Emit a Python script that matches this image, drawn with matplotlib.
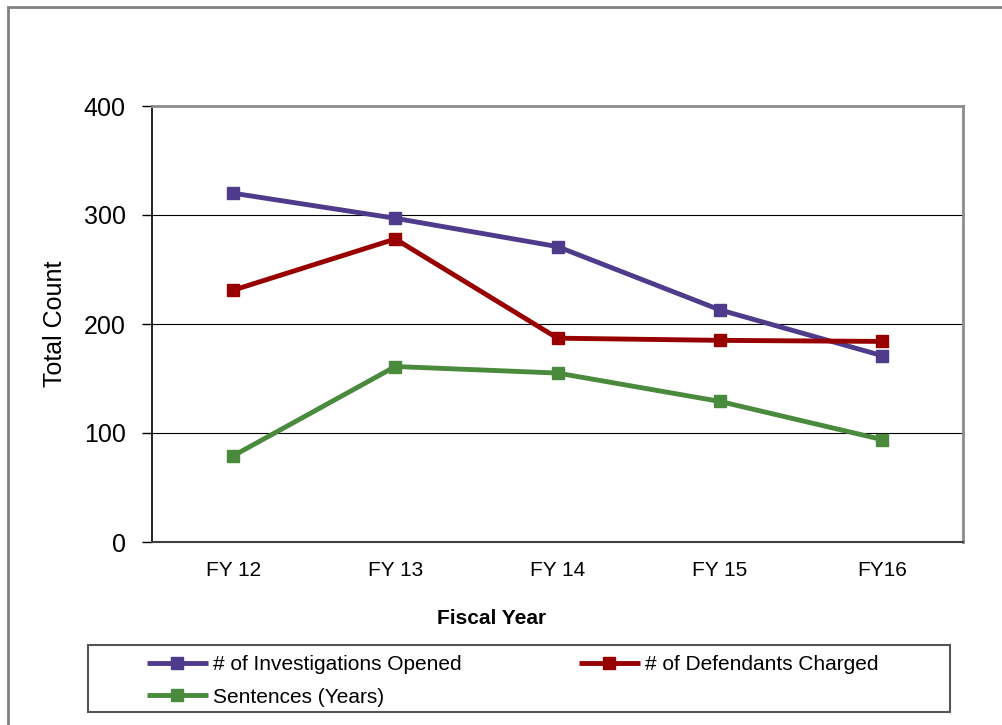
import matplotlib.pyplot as plt
from matplotlib.patches import Rectangle

plt.rcParams['font.family'] = ['Liberation Sans', 'DejaVu Sans']

# Data
years = ['FY 12', 'FY 13', 'FY 14', 'FY 15', 'FY16']
investigations = [320, 297, 271, 213, 171]
defendants = [231, 278, 187, 185, 184]
sentences = [79, 161, 155, 129, 94]

c_inv = '#4E3B8C'
c_def = '#980000'
c_sen = '#4A8A3C'

fig = plt.figure(figsize=(10.02, 7.25), dpi=100)
ax = fig.add_axes([152 / 1002, 1 - 542 / 725, 811 / 1002, 436 / 725])

x = list(range(len(years)))
style = dict(linewidth=3.5, marker='s', markersize=8.5, solid_capstyle='butt')
l1, = ax.plot(x, investigations, color=c_inv, label='# of Investigations Opened', **style)
l2, = ax.plot(x, defendants, color=c_def, label='# of Defendants Charged', **style)
l3, = ax.plot(x, sentences, color=c_sen, label='Sentences (Years)', **style)

ax.set_xlim(-0.5, 4.5)
ax.set_ylim(0, 400)
ax.set_yticks([0, 100, 200, 300, 400])
ax.set_xticks(x)
ax.set_xticklabels(years, fontsize=15)
ax.tick_params(axis='x', length=0, pad=14)
ax.tick_params(axis='y', labelsize=18, length=7, width=1, direction='out', pad=12)
ax.grid(axis='y', color='black', linewidth=0.8)
ax.set_axisbelow(True)

for side in ['top', 'right']:
    ax.spines[side].set_color('#8c8c8c')
    ax.spines[side].set_linewidth(2)
ax.spines['left'].set_color('black')
ax.spines['left'].set_linewidth(1.2)
ax.spines['bottom'].set_color('#404040')
ax.spines['bottom'].set_linewidth(1.5)

ax.set_ylabel('Total Count', fontsize=18, labelpad=12)
fig.text(492 / 1002, 1 - 618 / 725, 'Fiscal Year', fontsize=15, fontweight='bold',
         ha='center', va='center')

# legend box and entries
fig.patches.append(Rectangle((88 / 1002, 1 - 712 / 725), 862 / 1002, 67 / 725,
                             transform=fig.transFigure, fill=False,
                             edgecolor='#555555', linewidth=1.5))
fig.legend([l1, l3, l2],
           [l1.get_label(), l3.get_label(), l2.get_label()],
           ncol=2, frameon=False, fontsize=15,
           loc='upper left', bbox_to_anchor=(143 / 1002, 1 - 651 / 725),
           handlelength=2.9, handletextpad=0.25, columnspacing=5.65,
           labelspacing=0.65, numpoints=1, borderaxespad=0, borderpad=0.2)

# outer frame
fig.patches.append(Rectangle((8 / 1002, -0.2), 1.2, 0.2 + 1 - 7 / 725,
                             transform=fig.transFigure, fill=False,
                             edgecolor='#808080', linewidth=2))

fig.savefig('out.png', dpi=100)
